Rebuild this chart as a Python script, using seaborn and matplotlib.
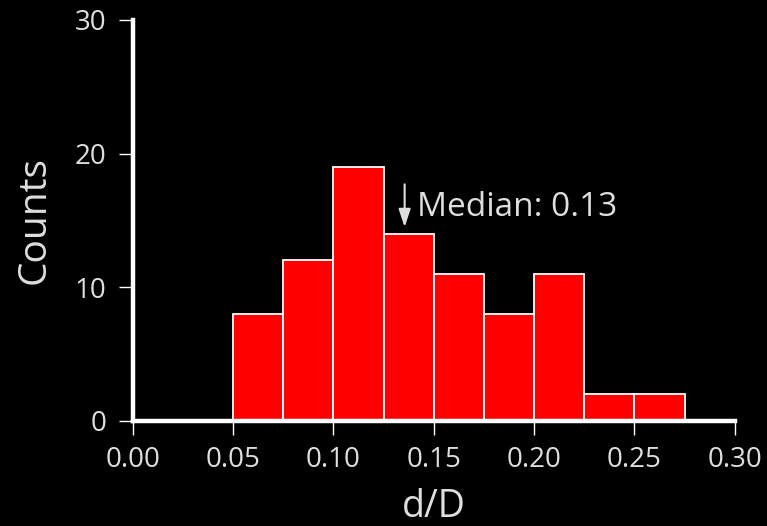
import matplotlib
matplotlib.use("Agg")
import matplotlib.pyplot as plt
import seaborn as sns
import numpy as np

bin_edges = [0.05, 0.075, 0.10, 0.125, 0.15, 0.175, 0.20, 0.225, 0.25, 0.275]
counts = [8, 12, 19, 14, 11, 8, 11, 2, 2]
x_ticks = [0.00, 0.05, 0.10, 0.15, 0.20, 0.25, 0.30]
x_tick_labels = ["0.00", "0.05", "0.10", "0.15", "0.20", "0.25", "0.30"]
y_ticks = [0, 10, 20, 30]
median_value = 0.13
median_label = "Median: 0.13"

sns.set_theme(style="ticks")
plt.rcParams['font.family'] = ['Open Sans', 'DejaVu Sans']

txt = "#dedede"
fig = plt.figure(figsize=(7.67, 5.26), dpi=100, facecolor="black")
ax = fig.add_axes([0.173, 0.2, 0.785, 0.762])
ax.set_facecolor("black")

centers = [(bin_edges[i] + bin_edges[i + 1]) / 2 for i in range(len(counts))]
sns.histplot(x=centers, weights=counts, bins=bin_edges, ax=ax,
             color="#ff0000", edgecolor="white", linewidth=1.3, alpha=1)

ax.set_xlim(0, 0.30)
ax.set_ylim(0, 30)
ax.set_xticks(x_ticks)
ax.set_xticklabels(x_tick_labels)
ax.set_yticks(y_ticks)
for s in ["top", "right"]:
    ax.spines[s].set_visible(False)
for s in ["left", "bottom"]:
    ax.spines[s].set_color("white")
    ax.spines[s].set_linewidth(3.2)
ax.tick_params(axis="both", colors="white", labelcolor=txt, labelsize=20, width=1.0)
ax.tick_params(axis="x", length=10, pad=8)
ax.tick_params(axis="y", length=10, pad=9)
ax.set_xlabel("d/D", color=txt, fontsize=27, labelpad=10)
ax.set_ylabel("Counts", color=txt, fontsize=28, labelpad=15)

ax.annotate("", xy=(median_value + 0.0055, 14.5), xytext=(median_value + 0.0055, 17.7),
            arrowprops=dict(arrowstyle="-|>,head_length=0.9,head_width=0.3",
                            color=txt, lw=1.5, shrinkA=0, shrinkB=0))
ax.text(median_value + 0.0115, 16.0, median_label, color=txt, fontsize=24, ha="left", va="center")

fig.savefig("out.png", dpi=100, facecolor="black")
